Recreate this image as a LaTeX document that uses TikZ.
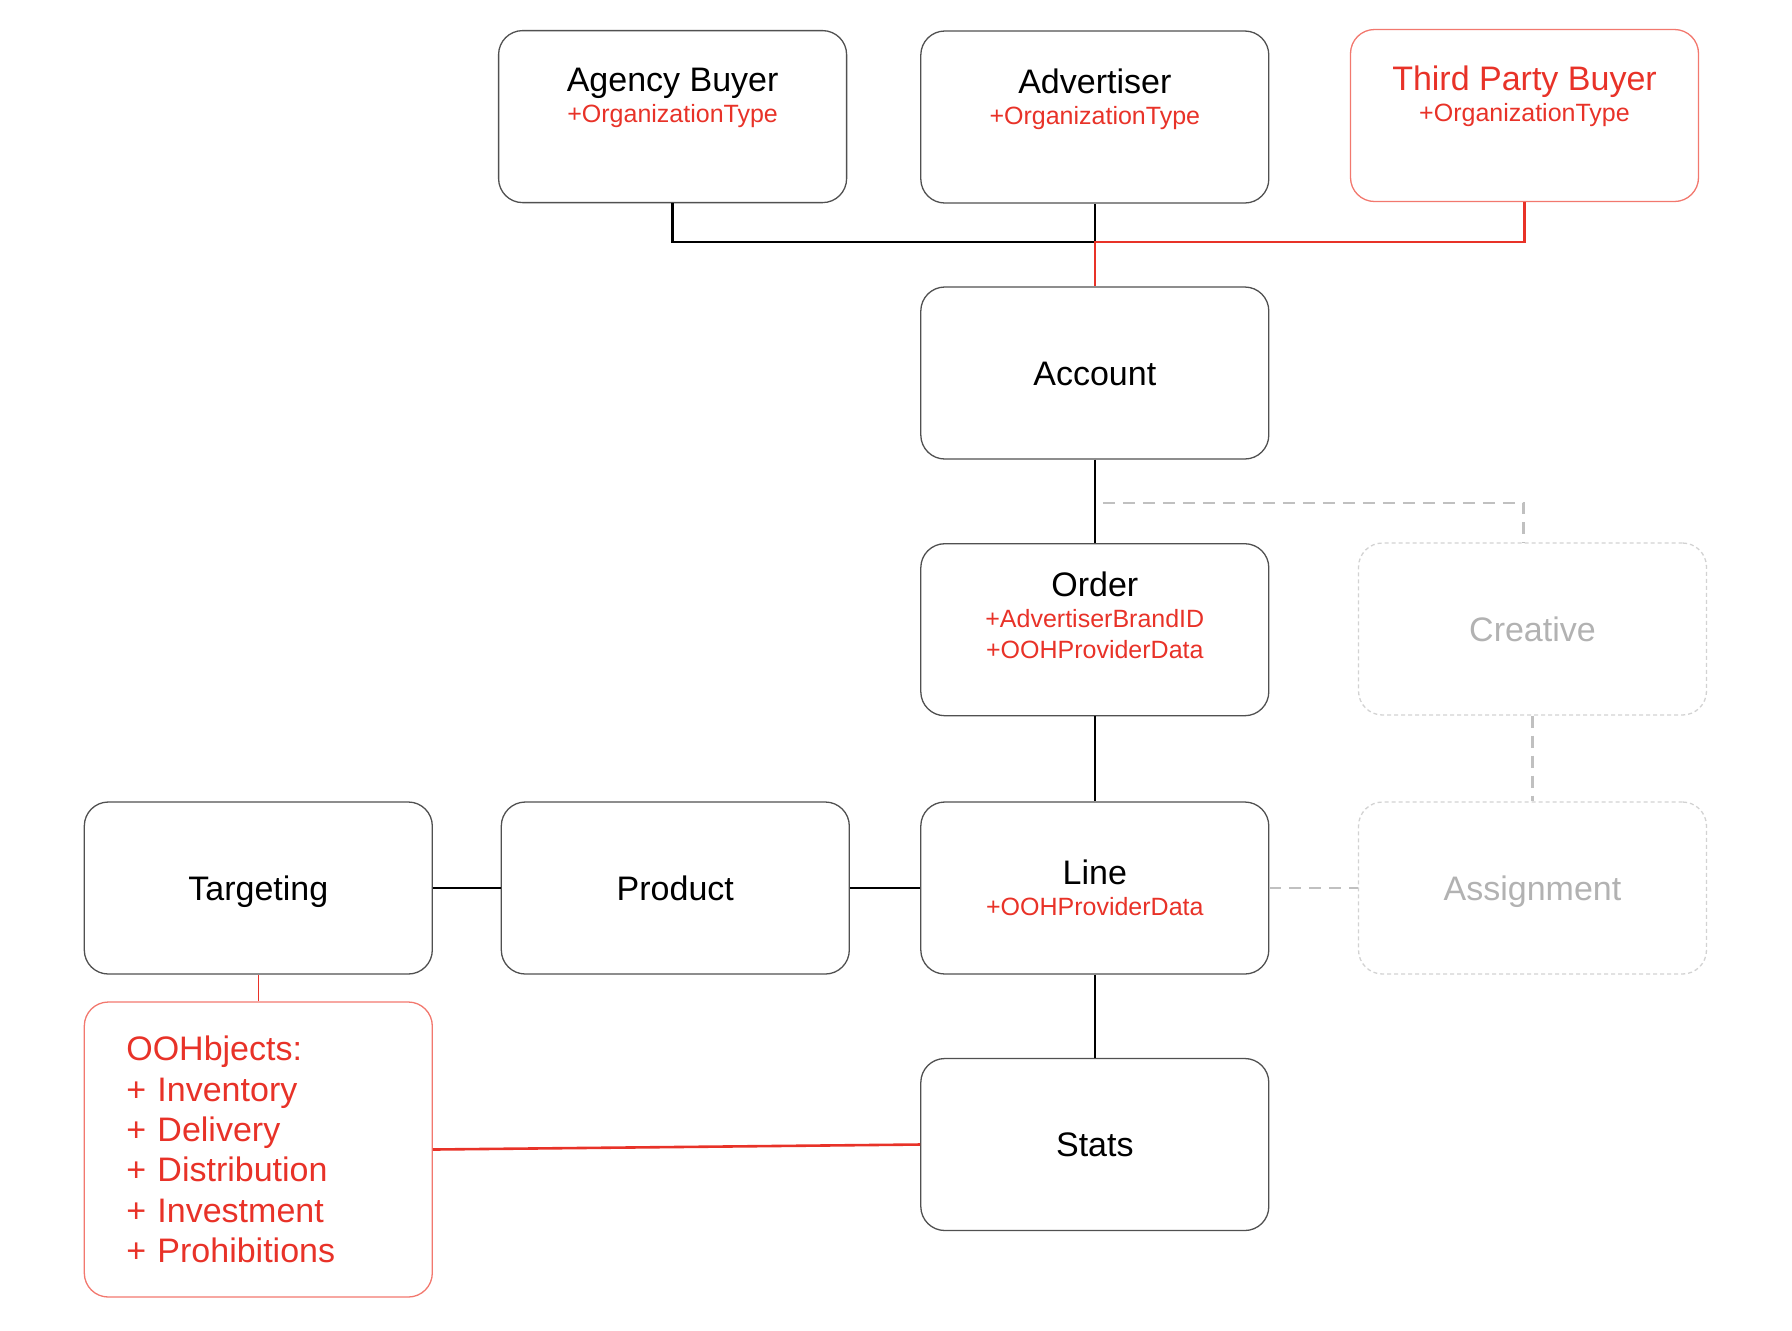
\documentclass[tikz,border=0pt]{standalone}
\usepackage{fontspec}
\setmainfont{Liberation Sans}
\usetikzlibrary{calc}
\usetikzlibrary{positioning}

\definecolor{oohred}{RGB}{232,50,40}
\definecolor{oohpink}{RGB}{242,120,110}
\definecolor{boxgray}{RGB}{80,80,80}
\definecolor{ghostline}{RGB}{192,192,192}
\definecolor{ghostbox}{RGB}{210,210,210}
\definecolor{ghosttext}{RGB}{178,178,178}

\newcommand{\boxtitle}{\fontsize{17}{15.5}\selectfont}
\newcommand{\boxattr}[1]{{\color{oohred}\fontsize{12.5}{15.5}\selectfont #1}}

\begin{document}
\begin{tikzpicture}[x=0.5pt, y=-0.5pt,
	entity/.style = {draw=boxgray, line width=0.65pt, rounded corners=12pt, minimum width=174pt, minimum height=86pt, inner sep=0pt, font=\boxtitle},
	redentity/.style = {entity, draw=oohpink},
	ghost/.style = {entity, draw=ghostbox, dash pattern=on 2pt off 1.5pt, text=ghosttext},
	oneline/.style = {text height=12.2pt, text depth=0pt},
	entitytext/.style = {align=center, font=\boxtitle, inner sep=0pt},
	link/.style = {line width=1.3pt},
	redlink/.style = {line width=1.3pt, draw=oohred},
	ghostlink/.style = {line width=1.3pt, draw=ghostline, dash pattern=on 6pt off 4pt}]
		\useasboundingbox (0,0) rectangle (1792,1330);
		% organisations
		\node[entity] (agency) at (672.6,116.6) {};
		\node[entitytext] (agencyT) at ([yshift=9.5pt]agency.center) {Agency Buyer\\\boxattr{+OrganizationType}};
		\node[entity] (advertiser) at (1094.8,117) {};
		\node[entitytext] (advertiserT) at ([yshift=9pt]advertiser.center) {Advertiser\\\boxattr{+OrganizationType}};
		\node[redentity] (thirdparty) at (1524.5,115.5) {};
		\node[entitytext, text=oohred] (thirdpartyT) at ([yshift=9.5pt]thirdparty.center) {Third Party Buyer\\\boxattr{+OrganizationType}};
		% main chain
		\node[entity, oneline] (account) at (1094.8,373) {Account};
		\node[entity] (order) at (1094.8,629.7) {};
		\node[entitytext] (orderT) at ([yshift=7pt]order.center) {Order\\\boxattr{+AdvertiserBrandID}\\\boxattr{+OOHProviderData}};
		\node[ghost, oneline] (creative) at (1532.5,629) {Creative};
		\node[entity, oneline] (targeting) at (258.3,888) {Targeting};
		\node[entity, oneline] (product) at (675.3,888) {Product};
		\node[entity, align=center] (line) at (1094.8,888) {Line\\\boxattr{+OOHProviderData}};
		\node[ghost, oneline] (assignment) at (1532.5,888) {Assignment};
		\node[entity, oneline] (stats) at (1094.8,1144.5) {Stats};
		\node[redentity, minimum height=147.5pt, text width=132pt, inner xsep=21pt, align=left, text=oohred, font=\fontsize{17}{20.2}\selectfont] (oohbjects) at (258.3,1149.5) {OOHbjects:\\+ Inventory\\+ Delivery\\+ Distribution\\+ Investment\\+ Prohibitions};
		% connectors
		\coordinate (orgbus) at (0,242);
		\coordinate (topjoin) at (advertiser.south |- orgbus);
		\draw[link] (agency.south) |- (topjoin) -- (advertiser.south);
		\draw[redlink] (thirdparty.south) |- (topjoin) -- (account.north);
		\draw[link] (account.south) -- (order.north);
		\coordinate (creativejoin) at ($(account.south)!0.52!(order.north)$);
		\draw[ghostlink] ([xshift=4pt]creativejoin) -| ([xshift=-4.5pt]creative.north);
		\draw[link] (order.south) -- (line.north);
		\draw[ghostlink] (creative.south) -- (assignment.north);
		\draw[link] (targeting) -- (product);
		\draw[link] (product) -- (line);
		\draw[ghostlink] (line) -- (assignment);
		\draw[link] (line.south) -- (stats.north);
		\draw[redlink, line width=0.8pt] (targeting.south) -- (oohbjects.north);
		\draw[redlink] (oohbjects.east) -- (stats.west);
\end{tikzpicture}
\end{document}
